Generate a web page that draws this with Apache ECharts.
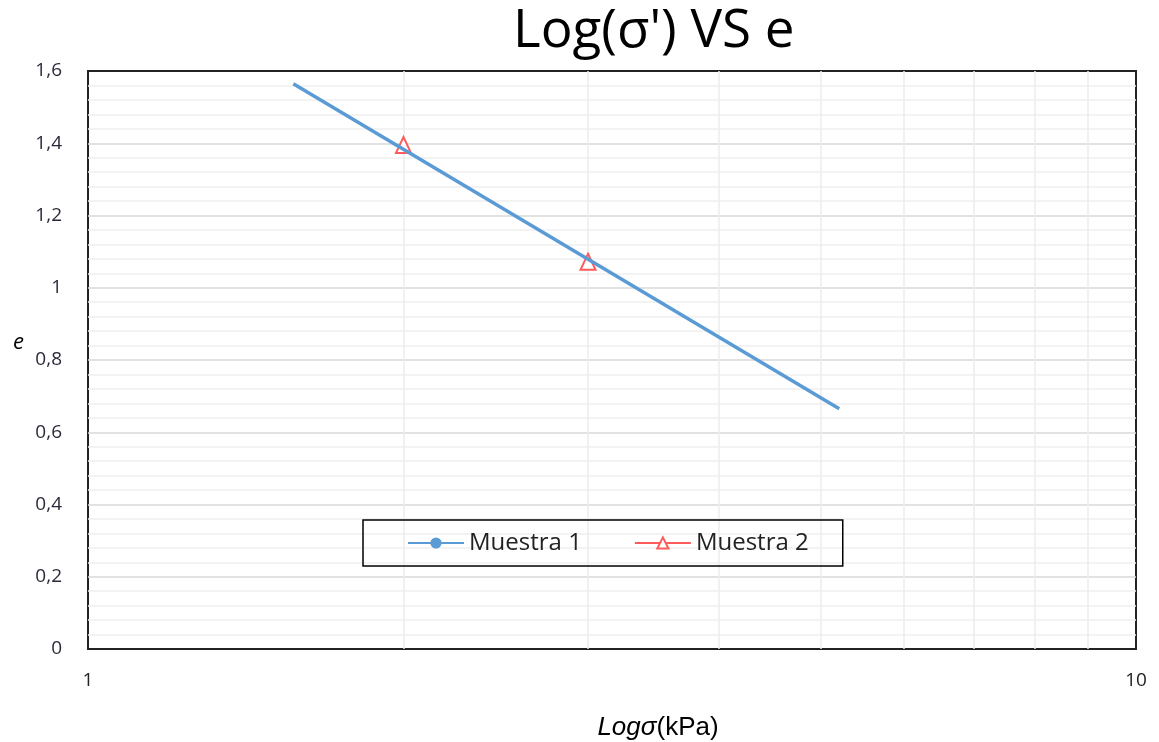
<!DOCTYPE html>
<html>
<head>
<meta charset="utf-8">
<script src="https://cdn.jsdelivr.net/npm/echarts@6/dist/echarts.min.js"></script>
<style>
  html, body { margin: 0; padding: 0; background: #fff; }
  #chart { width: 1159px; height: 742px; }
</style>
</head>
<body>
<div id="chart"></div>
<script>
// datos
const muestra1 = [[1.57, 1.565], [5.21, 0.665]]
const muestra2 = [[2, 1.395], [3, 1.072]]
const yTicks = [0, 0.2, 0.4, 0.6, 0.8, 1, 1.2, 1.4, 1.6]
const xMinorGrid = [2, 3, 4, 5, 6, 7, 8, 9]

const blue = '#5b9bd5'
const red = '#ff5b5b'

const chart = echarts.init(document.getElementById('chart'), null, { renderer: 'canvas' })

chart.setOption({
  animation: false,
  backgroundColor: '#fff',
  title: {
    text: "Log(σ') VS e",
    left: 508,
    top: 0,
    textStyle: { fontFamily: 'Open Sans', fontWeight: 'normal', fontSize: 53, color: '#000' },
  },
  grid: {
    left: 88, right: 23, top: 71, bottom: 93,
    outerBoundsMode: 'none',
    containLabel: false,
    show: true, borderColor: '#222', borderWidth: 2, backgroundColor: 'transparent',
  },
  legend: {
    left: 363,
    top: 520,
    padding: [11, 34, 11, 44],
    itemGap: 52,
    itemWidth: 56,
    itemHeight: 14,
    borderColor: '#000',
    borderWidth: 1.5,
    textStyle: { fontFamily: 'Open Sans', fontSize: 24, color: '#222' },
    data: [
      { name: 'Muestra 1' },
      { name: 'Muestra 2', lineStyle: { color: red, width: 2, opacity: 1 } },
    ],
  },
  xAxis: {
    type: 'log',
    logBase: 10,
    min: 1,
    max: 10,
    axisLine: { show: false },
    axisTick: { show: false },
    axisLabel: { fontFamily: 'Open Sans', fontSize: 19, color: '#222', margin: 22 },
    splitLine: { show: false },
    name: '{i|Logσ}{n|(kPa)}',
    nameLocation: 'middle',
    nameGap: 66,
    nameTextStyle: {
      padding: [0, 0, 0, 92],
      rich: {
        i: { fontFamily: 'Liberation Sans', fontStyle: 'italic', fontSize: 26, color: '#000' },
        n: { fontFamily: 'Liberation Sans', fontSize: 26, color: '#000' },
      },
    },
  },
  yAxis: {
    type: 'value',
    min: 0,
    max: 1.6,
    interval: 0.2,
    axisLine: { show: false },
    axisTick: { show: false },
    axisLabel: {
      fontFamily: 'Open Sans', fontSize: 19, color: '#2a2a3a', margin: 26,
      formatter: v => yTicks.includes(+v.toFixed(1)) ? String(+v.toFixed(1)).replace('.', ',') : '',
    },
    splitLine: { showMinLine: false, showMaxLine: false, lineStyle: { color: '#d9d9d9', width: 1.5 } },
    minorTick: { show: false, splitNumber: 5 },
    minorSplitLine: { show: true, lineStyle: { color: '#efefef', width: 1.5 } },
    name: 'e',
    nameLocation: 'middle',
    nameRotate: 0,
    nameGap: 64,
    nameTextStyle: {
      fontFamily: 'Open Sans', fontStyle: 'italic', fontSize: 22, color: '#000',
      verticalAlign: 'bottom', padding: [0, 0, 6, 0],
    },
  },
  series: [
    {
      name: 'Muestra 2',
      type: 'line',
      data: muestra2,
      symbol: 'emptyTriangle',
      symbolSize: [15, 16],
      itemStyle: { color: red, borderColor: red, borderWidth: 2 },
      lineStyle: { opacity: 0 },
      z: 2,
      markLine: {
        silent: true,
        symbol: 'none',
        label: { show: false },
        lineStyle: { color: '#ececec', width: 1.5, type: 'solid' },
        data: xMinorGrid.map(v => ({ xAxis: v })),
        z: 0,
      },
    },
    {
      name: 'Muestra 1',
      type: 'line',
      data: muestra1,
      symbol: 'circle',
      symbolSize: 5,
      showSymbol: false,
      itemStyle: { color: blue },
      lineStyle: { color: blue, width: 3.5 },
      z: 3,
    },
  ],
})
</script>
</body>
</html>
